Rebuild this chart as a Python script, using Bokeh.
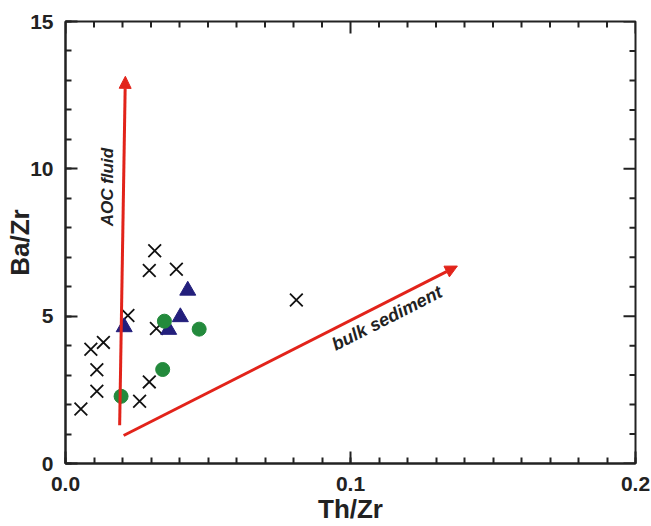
import math
from bokeh.plotting import figure
from bokeh.models import FixedTicker, Arrow, NormalHead, Range1d, Label
from bokeh.embed import file_html
from bokeh.resources import INLINE

# Data
cross_x = [0.0313, 0.0294, 0.0389, 0.0219, 0.0319, 0.0133, 0.0089, 0.0110, 0.0110, 0.0294, 0.0260, 0.0054, 0.0810]
cross_y = [7.22, 6.55, 6.59, 5.02, 4.58, 4.11, 3.88, 3.18, 2.45, 2.77, 2.11, 1.85, 5.55]
tri_x = [0.0206, 0.0362, 0.0403, 0.0429]
tri_y = [4.63, 4.54, 4.97, 5.87]
circ_x = [0.0347, 0.0469, 0.0341, 0.0195]
circ_y = [4.83, 4.56, 3.19, 2.28]
aoc_start = (0.0190, 1.30)
aoc_end = (0.0210, 13.14)
sed_start = (0.0204, 0.95)
sed_end = (0.1375, 6.70)
x_major = [0.0, 0.1, 0.2]
x_minor = [i / 100 for i in range(0, 21)]
x_labels = {0.0: "0.0", 0.1: "0.1", 0.2: "0.2"}
y_major = [0, 5, 10, 15]
y_minor = list(range(0, 16))
x_title = "Th/Zr"
y_title = "Ba/Zr"

FONT = "Liberation Sans"
RED = "#e2231a"
INK = "#222222"
X0, X1, Y0, Y1 = 0.0, 0.2, 0.0, 15.0

p = figure(width=651, height=526, output_backend="svg", toolbar_location=None,
           x_range=Range1d(X0, X1), y_range=Range1d(Y0, Y1),
           min_border_left=65, min_border_right=16, min_border_top=21, min_border_bottom=62)
p.background_fill_color = "white"
p.border_fill_color = "white"
p.grid.visible = False
p.outline_line_color = INK
p.outline_line_width = 2

xt = FixedTicker(ticks=x_major, minor_ticks=x_minor)
yt = FixedTicker(ticks=y_major, minor_ticks=y_minor)

for ax in (p.xaxis[0], p.yaxis[0]):
    ax.axis_line_width = 2
    ax.axis_line_color = INK
    ax.major_tick_in = 12
    ax.major_tick_out = 0
    ax.minor_tick_in = 6
    ax.minor_tick_out = 0
    ax.major_tick_line_width = 2
    ax.minor_tick_line_width = 2
    ax.major_tick_line_color = INK
    ax.minor_tick_line_color = INK
    ax.major_label_text_font = FONT
    ax.major_label_text_font_style = "bold"
    ax.major_label_text_font_size = "21px"
    ax.major_label_text_color = INK
    ax.axis_label_text_font = FONT
    ax.axis_label_text_font_style = "bold"
    ax.axis_label_text_font_size = "26px"
    ax.axis_label_text_color = INK

p.xaxis.ticker = xt
p.yaxis.ticker = yt
p.xaxis.major_label_overrides = x_labels
p.xaxis.axis_label = x_title
p.yaxis.axis_label = y_title
p.xaxis.major_label_standoff = 13
p.xaxis.axis_label_standoff = 0
p.yaxis.major_label_standoff = 12
p.yaxis.axis_label_standoff = -8

# Mirrored inward ticks on top and right, from the same tick lists
fw, fh = 570.0, 443.0
dy_major = 12 * (Y1 - Y0) / fh
dy_minor = 6 * (Y1 - Y0) / fh
dx_major = 12 * (X1 - X0) / fw
dx_minor = 6 * (X1 - X0) / fw
tx = [t for t in x_minor if all(abs(t - m) > 1e-9 for m in x_major)]
ty = [t for t in y_minor if t not in y_major]
p.segment(x0=tx, y0=[Y1] * len(tx), x1=tx, y1=[Y1 - dy_minor] * len(tx), line_color=INK, line_width=2)
p.segment(x0=x_major, y0=[Y1] * len(x_major), x1=x_major, y1=[Y1 - dy_major] * len(x_major), line_color=INK, line_width=2)
p.segment(x0=[X1] * len(ty), y0=ty, x1=[X1 - dx_minor] * len(ty), y1=ty, line_color=INK, line_width=2)
p.segment(x0=[X1] * len(y_major), y0=y_major, x1=[X1 - dx_major] * len(y_major), y1=y_major, line_color=INK, line_width=2)

# Arrows
for (s, e) in [(aoc_start, aoc_end), (sed_start, sed_end)]:
    p.add_layout(Arrow(end=NormalHead(size=12, fill_color=RED, line_color=RED, line_width=1),
                       x_start=s[0], y_start=s[1], x_end=e[0], y_end=e[1],
                       line_color=RED, line_width=3))

# Markers
p.scatter(cross_x, cross_y, marker="x", size=18, line_color="#111111", line_width=1.8)
p.scatter(tri_x, tri_y, marker="triangle", size=16, fill_color="#231f7c", line_color="#231f7c")
p.scatter(circ_x, circ_y, marker="circle", size=14, fill_color="#238a3c", line_color="#238a3c")

# Annotations
p.add_layout(Label(x=0.0148, y=9.38, text="AOC fluid", angle=math.pi / 2,
                   text_font=FONT, text_font_style="bold italic", text_font_size="17px",
                   text_color=INK, text_align="center", text_baseline="middle"))
p.add_layout(Label(x=0.1128, y=4.93, text="bulk sediment", angle=math.radians(27),
                   text_font=FONT, text_font_style="bold italic", text_font_size="18px",
                   text_color=INK, text_align="center", text_baseline="middle"))

open("out.html", "w").write(file_html(p, INLINE))
